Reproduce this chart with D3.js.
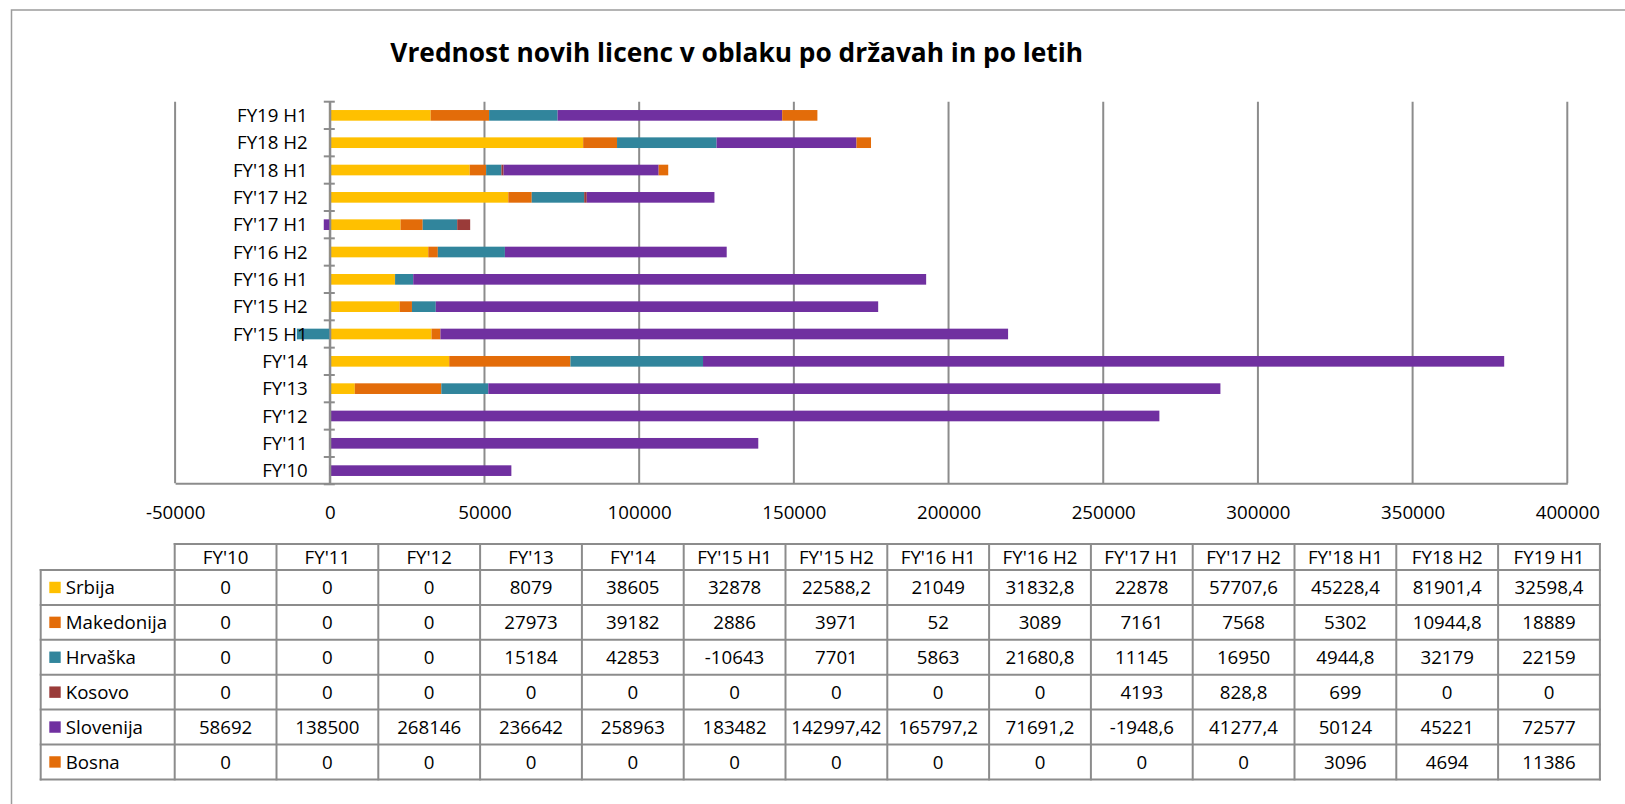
<!DOCTYPE html>
<html>
<head>
<meta charset="utf-8">
<script src="https://cdn.jsdelivr.net/npm/d3@7"></script>
<style>
  body { margin: 0; background: #fff; }
  text { font-family: "Open Sans", sans-serif; fill: #000; }
</style>
</head>
<body>
<div id="chart"></div>
<script>
// Periods (bottom to top in the chart, left to right in the table)
const periods = ["FY'10", "FY'11", "FY'12", "FY'13", "FY'14", "FY'15 H1", "FY'15 H2",
                 "FY'16 H1", "FY'16 H2", "FY'17 H1", "FY'17 H2", "FY'18 H1", "FY18 H2", "FY19 H1"];

const countries = ["Srbija", "Makedonija", "Hrvaška", "Kosovo", "Slovenija", "Bosna"];

const srbija     = [0, 0, 0, 8079, 38605, 32878, 22588.2, 21049, 31832.8, 22878, 57707.6, 45228.4, 81901.4, 32598.4];
const makedonija = [0, 0, 0, 27973, 39182, 2886, 3971, 52, 3089, 7161, 7568, 5302, 10944.8, 18889];
const hrvaska    = [0, 0, 0, 15184, 42853, -10643, 7701, 5863, 21680.8, 11145, 16950, 4944.8, 32179, 22159];
const kosovo     = [0, 0, 0, 0, 0, 0, 0, 0, 0, 4193, 828.8, 699, 0, 0];
const slovenija  = [58692, 138500, 268146, 236642, 258963, 183482, 142997.42, 165797.2, 71691.2, -1948.6, 41277.4, 50124, 45221, 72577];
const bosna      = [0, 0, 0, 0, 0, 0, 0, 0, 0, 0, 0, 3096, 4694, 11386];

const xTicks = [-50000, 0, 50000, 100000, 150000, 200000, 250000, 300000, 350000, 400000];

const colors = ["#FFC000", "#E36C09", "#31859C", "#9A3B39", "#7030A0", "#E36C09"];

const title = "Vrednost novih licenc v oblaku po državah in po letih";

// Build rows for the stack
const seriesValues = [srbija, makedonija, hrvaska, kosovo, slovenija, bosna];
const rows = periods.map((p, i) => {
    const r = { period: p };
    countries.forEach((c, j) => r[c] = seriesValues[j][i]);
    return r;
});

const W = 1625, H = 804;
const grey = "#8c8c8c";
const fontSize = 18.7;

const svg = d3.select("#chart").append("svg")
    .attr("width", W)
    .attr("height", H);

// Outer chart border (only top and left visible)
svg.append("path")
    .attr("d", `M11.5,${H} V10 H${W}`)
    .attr("fill", "none")
    .attr("stroke", "#9c9c9c")
    .attr("stroke-width", 1.5);

// Title, fitted to the reference width
const titleText = svg.append("text")
    .attr("x", 736.7)
    .attr("y", 62.3)
    .attr("text-anchor", "middle")
    .style("font-weight", "bold")
    .style("font-size", "26px")
    .text(title);
const tw = titleText.node().getComputedTextLength();
titleText.style("font-size", (26 * 693 / tw) + "px");

// Scales
const x = d3.scaleLinear()
    .domain([-50000, 400000])
    .range([175.1, 1567.3]);

const y = d3.scaleBand()
    .domain(periods.slice().reverse())
    .range([101.7, 484.3])
    .paddingInner(0.61)
    .paddingOuter(0.305);

const stack = d3.stack()
    .keys(countries)
    .offset(d3.stackOffsetDiverging);
const stacked = stack(rows);

// Vertical gridlines
svg.append("g")
    .selectAll("line")
    .data(xTicks)
    .enter()
    .append("line")
    .attr("x1", d => x(d))
    .attr("x2", d => x(d))
    .attr("y1", 101.7)
    .attr("y2", 483.3)
    .attr("stroke", grey)
    .attr("stroke-width", 2);

// Value axis along the bottom
svg.append("g")
    .attr("transform", "translate(0,483.3)")
    .call(d3.axisBottom(x).tickValues(xTicks).tickSize(0).tickPadding(22).tickFormat(d => String(d)))
    .call(g => g.select(".domain").attr("stroke", grey).attr("stroke-width", 2))
    .call(g => g.selectAll("text").style("font-size", fontSize + "px").attr("fill", "#000"));

// Stacked bars
svg.append("g")
    .selectAll("g")
    .data(stacked)
    .enter()
    .append("g")
    .attr("fill", (d, i) => colors[i])
    .selectAll("rect")
    .data(d => d)
    .enter()
    .append("rect")
    .attr("x", d => x(Math.min(d[0], d[1])))
    .attr("y", d => y(d.data.period))
    .attr("width", d => Math.abs(x(d[1]) - x(d[0])))
    .attr("height", y.bandwidth());

// Category axis at zero
const x0 = x(0);
svg.append("g")
    .attr("transform", `translate(${x0},0)`)
    .call(d3.axisLeft(y).tickSize(0).tickSizeOuter(0).tickPadding(22))
    .call(g => g.select(".domain").attr("stroke", grey).attr("stroke-width", 2))
    .call(g => g.selectAll("text").style("font-size", fontSize + "px").attr("fill", "#000").attr("dy", "0.36em"));

// Category tick marks at band boundaries (crossing the axis)
svg.append("g")
    .selectAll("line")
    .data(d3.range(periods.length + 1))
    .enter()
    .append("line")
    .attr("x1", x0 - 6)
    .attr("x2", x0 + 5)
    .attr("y1", i => 101.7 + i * y.step())
    .attr("y2", i => 101.7 + i * y.step())
    .attr("stroke", grey)
    .attr("stroke-width", 2);

// Data table under the chart
const tLeft = 40.7, cLeft = 174.7, cW = 101.8, hTop = 544, hH = 26, rH = 34.9;
const fmt = v => String(v).replace(".", ",");
const table = svg.append("g");

// header
table.selectAll(".hcell")
    .data(periods)
    .enter()
    .append("text")
    .attr("x", (d, i) => cLeft + cW * (i + 0.5))
    .attr("y", hTop + hH / 2)
    .attr("dy", "0.36em")
    .attr("text-anchor", "middle")
    .style("font-size", fontSize + "px")
    .text(d => d);

// body rows
countries.forEach((c, j) => {
    const cy = hTop + hH + rH * (j + 0.5);
    table.append("rect")
        .attr("x", 49.3)
        .attr("y", cy - 5.7)
        .attr("width", 11.4)
        .attr("height", 11.4)
        .attr("fill", colors[j]);
    table.append("text")
        .attr("x", 65.7)
        .attr("y", cy)
        .attr("dy", "0.36em")
        .style("font-size", fontSize + "px")
        .text(c);
    table.selectAll(".v" + j)
        .data(seriesValues[j])
        .enter()
        .append("text")
        .attr("x", (d, i) => cLeft + cW * (i + 0.5))
        .attr("y", cy)
        .attr("dy", "0.36em")
        .attr("text-anchor", "middle")
        .style("font-size", fontSize + "px")
        .text(d => fmt(d));
});

// table grid
const tRight = cLeft + cW * periods.length;
const tBottom = hTop + hH + rH * countries.length;
const gridLines = [];
gridLines.push([cLeft, hTop, tRight, hTop]);
for (let j = 0; j <= countries.length; j++) {
    const yy = hTop + hH + rH * j;
    gridLines.push([tLeft, yy, tRight, yy]);
}
gridLines.push([tLeft, hTop + hH, tLeft, tBottom]);
for (let i = 0; i <= periods.length; i++) {
    const xx = cLeft + cW * i;
    gridLines.push([xx, hTop, xx, tBottom]);
}
table.selectAll("line")
    .data(gridLines)
    .enter()
    .append("line")
    .attr("x1", d => d[0]).attr("y1", d => d[1])
    .attr("x2", d => d[2]).attr("y2", d => d[3])
    .attr("stroke", grey)
    .attr("stroke-width", 2)
    .attr("stroke-linecap", "square");
</script>
</body>
</html>
